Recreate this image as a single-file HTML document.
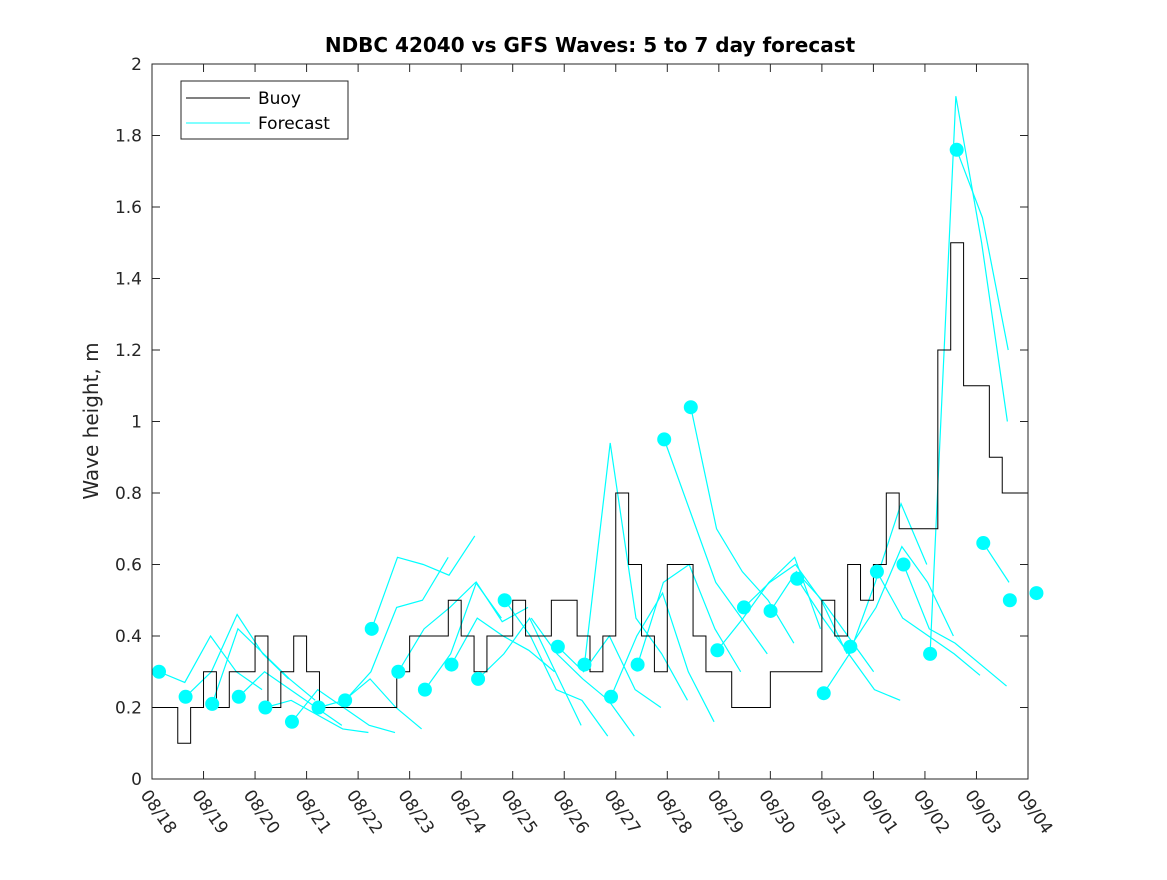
<!DOCTYPE html>
<html><head><meta charset="utf-8"><style>
body{margin:0;background:#fff;font-family:"Liberation Sans",sans-serif}
svg text{font-family:"DejaVu Sans","Liberation Sans",sans-serif}
</style></head><body>
<svg id="chart" width="1167" height="875">
<rect width="1167" height="875" fill="#fff"/>
<text x="590" y="52" text-anchor="middle" font-size="20" font-weight="bold" fill="#000">NDBC 42040 vs GFS Waves: 5 to 7 day forecast</text>
<text transform="translate(98,421) rotate(-90)" text-anchor="middle" font-size="20" fill="#262626">Wave height, m</text>
<g id="axes"></g>
<g id="series"></g>
<rect x="152" y="64" width="876" height="715" fill="none" stroke="#262626" stroke-width="1"/>
<g>
<rect x="181" y="81" width="167" height="58" fill="#fff" stroke="#262626"/>
<line x1="186" y1="98" x2="250" y2="98" stroke="#000"/>
<text x="258" y="104" font-size="17" fill="#000">Buoy</text>
<line x1="186" y1="123" x2="250" y2="123" stroke="#00ffff"/>
<text x="258" y="129" font-size="17" fill="#000">Forecast</text>
</g>
</svg>
<script>
const xTickLabels=["08/18","08/19","08/20","08/21","08/22","08/23","08/24","08/25","08/26","08/27","08/28","08/29","08/30","08/31","09/01","09/02","09/03","09/04"];
const yTicks=[0,0.2,0.4,0.6,0.8,1,1.2,1.4,1.6,1.8,2];
const buoyStep=0.25;
const buoyValues=[0.2,0.2,0.1,0.2,0.3,0.2,0.3,0.3,0.4,0.2,0.3,0.4,0.3,0.2,0.2,0.2,0.2,0.2,0.2,0.3,0.4,0.4,0.4,0.5,0.4,0.3,0.4,0.4,0.5,0.4,0.4,0.5,0.5,0.4,0.3,0.4,0.8,0.6,0.4,0.3,0.6,0.6,0.4,0.3,0.3,0.2,0.2,0.2,0.3,0.3,0.3,0.3,0.5,0.4,0.6,0.5,0.6,0.8,0.7,0.7,0.7,1.2,1.5,1.1,1.1,0.9,0.8,0.8];
const fcStartDay=0.136;
const fcSpacing=0.516;
const fcDots=[0.30,0.23,0.21,0.23,0.20,0.16,0.20,0.22,0.42,0.30,0.25,0.32,0.28,0.50,null,0.37,0.32,0.23,0.32,0.95,1.04,0.36,0.48,0.47,0.56,0.24,0.37,0.58,0.60,0.35,1.76,0.66,0.50,0.52];
const fcSegments=[
[0.30,0.27,0.40,0.30,0.25],[0.23,0.30,0.46,0.35,0.28],[0.21,0.42,0.35,0.28,0.22],[0.23,0.30,0.25,0.20,0.15],
[0.20,0.22,0.18,0.14,0.13],[0.16,0.25,0.20,0.15,0.13],[0.20,0.22,0.28,0.20,0.14],[0.22,0.30,0.48,0.50,0.62],
[0.42,0.62,0.60,0.57,0.68],[0.30,0.42,0.48,0.55,0.45],[0.25,0.35,0.55,0.44,0.48],[0.32,0.45,0.40,0.36,0.30],
[0.28,0.35,0.45,0.30,0.15],[0.50,0.40,0.25,0.22,0.12],[0.45,0.35,0.28,0.22,0.12],[0.37,0.30,0.40,0.25,0.20],
[0.32,0.94,0.45,0.35,0.22],[0.23,0.40,0.52,0.30,0.16],[0.32,0.55,0.60,0.42,0.30],[0.95,0.75,0.55,0.45,0.35],
[1.04,0.70,0.58,0.50,0.38],[0.36,0.45,0.55,0.62,0.42],[0.48,0.55,0.60,0.50,0.35],[0.47,0.58,0.50,0.40,0.30],
[0.56,0.45,0.35,0.25,0.22],[0.24,0.35,0.55,0.77,0.60],[0.37,0.48,0.65,0.55,0.40],[0.58,0.45,0.40,0.35,0.29],
[0.60,0.42,0.38,0.32,0.26],[0.35,1.91,1.50,1.00,0.60],[1.76,1.57,1.20,0.90,0.60],[0.66,0.55,0.48,0.35,0.24],
[0.50,0.45,0.50,0.45],[0.52,0.48]];
const X0=152,X1=1028,Y0=779,Y1=64,DAYS=17,YMAX=2;
const xs=d=>X0+(X1-X0)*d/DAYS;
const ys=v=>Y0-(Y0-Y1)*v/YMAX;
const NS="http://www.w3.org/2000/svg";
const axes=document.getElementById('axes'),ser=document.getElementById('series');
function mk(t,a,p){const e=document.createElementNS(NS,t);for(const k in a)e.setAttribute(k,a[k]);p.appendChild(e);return e;}
yTicks.forEach(v=>{
  const y=ys(v);
  let l=mk('line',{x1:X0,x2:X0+8,y1:y,y2:y,stroke:'#262626'},axes);
  
  
  let l2=mk('line',{x1:X1-8,x2:X1,y1:y,y2:y,stroke:'#262626'},axes);
  
  
  let t=mk('text',{x:X0-10,y:y+6,'text-anchor':'end','font-size':17,fill:'#262626'},axes);
  t.textContent=String(v);
  
  
});
xTickLabels.forEach((s,i)=>{
  const x=xs(i);
  let l=mk('line',{x1:x,x2:x,y1:Y0,y2:Y0-8,stroke:'#262626'},axes);
  
  
  let l2=mk('line',{x1:x,x2:x,y1:Y1,y2:Y1+8,stroke:'#262626'},axes);
  
  
  let t=mk('text',{transform:`translate(${x-12},${Y0+16}) rotate(55)`,'font-size':17,fill:'#262626'},axes);
  t.textContent=s;
  
  
});
fcSegments.forEach((seg,i)=>{
  const d0=fcStartDay+fcSpacing*i;
  const pts=[];
  seg.forEach((v,j)=>{const d=d0+j*0.5;if(d<=DAYS)pts.push(xs(d)+','+ys(v));});
  let p=mk('polyline',{points:pts.join(' '),fill:'none',stroke:'#00ffff','stroke-width':1.2},ser);
  
  
});
let bp=[];
buoyValues.forEach((v,i)=>{const a=xs(i*buoyStep),b=xs((i+1)*buoyStep);bp.push(a+','+ys(v),b+','+ys(v));});
let bl=mk('polyline',{points:bp.join(' '),fill:'none',stroke:'#000','stroke-width':1},ser);


fcDots.forEach((v,i)=>{
  if(v===null)return;
  let c=mk('circle',{cx:xs(fcStartDay+fcSpacing*i),cy:ys(v),r:7,fill:'#00ffff'},ser);
  
  
});
</script>
</body></html>
